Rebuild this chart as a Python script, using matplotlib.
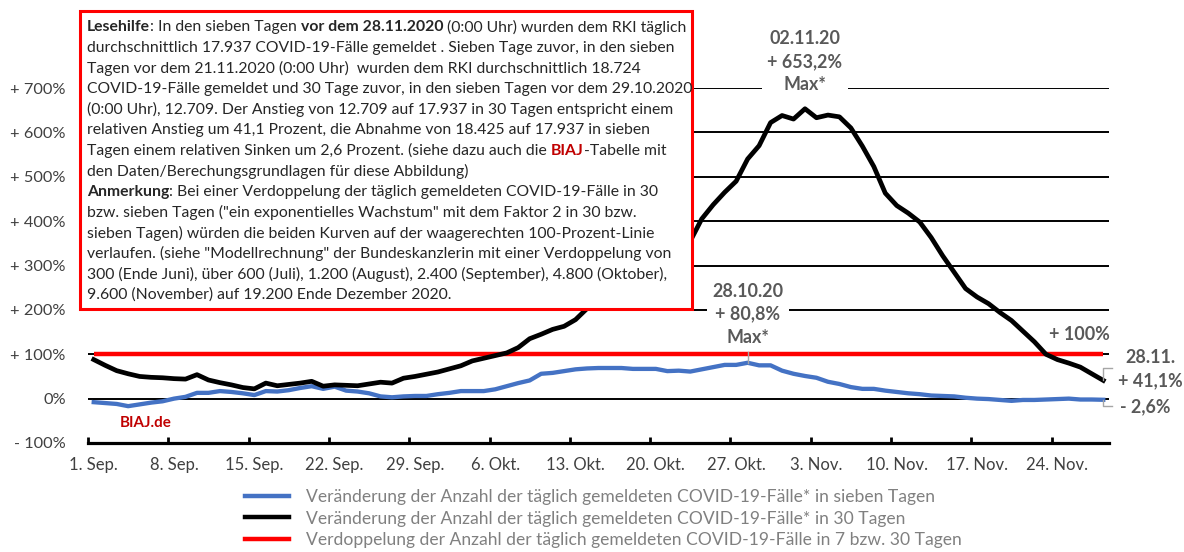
import matplotlib
matplotlib.use("Agg")
import matplotlib.pyplot as plt
from matplotlib.lines import Line2D
from matplotlib.patches import Rectangle

plt.rcParams['font.family'] = ['Lato', 'DejaVu Sans']

# ---------------- data ----------------
# day index 0 = 1. Sep. 2020 ... 88 = 28. Nov. 2020
change_7 = [-8, -10, -12, -17, -13, -9, -6, 0, 4, 13,
            13, 17, 15, 12, 8, 17, 16, 19, 24, 28,
            22, 27, 18, 16, 12, 5, 3, 5, 6, 6,
            10, 13, 17, 17, 17, 21, 28, 35, 41, 56,
            58, 62, 66, 68, 69, 69, 69, 67, 67, 67,
            62, 63, 61, 66, 71, 76, 76, 80.8, 75, 75,
            63, 56, 51, 47, 38, 33, 26, 22, 22, 18,
            15, 12, 10, 7, 6, 5, 2, 0, -1, -3,
            -5, -3, -3, -2, -1, 0, -2, -2, -2.6]
change_30 = [88, 75, 63, 56, 50, 48, 47, 45, 44, 54,
             42, 36, 31, 25, 22, 35, 29, 32, 35, 39,
             28, 31, 30, 29, 33, 37, 35, 46, 50, 55,
             60, 67, 74, 85, 91, 97, 103, 115, 135, 145,
             156, 163, 178, 203, 225, 250, 270, 290, 305, 318,
             318, 338, 355, 405, 437, 465, 490, 540, 570, 622,
             638, 630, 653.2, 633, 639, 635, 610, 569, 523, 463,
             435, 418, 398, 363, 322, 285, 248, 229, 214, 194,
             176, 152, 128, 100, 88, 80, 71, 56, 41.1]
doubling = [100] * len(change_30)

ytick_values = [-100, 0, 100, 200, 300, 400, 500, 600, 700]
ytick_labels = ["- 100%", "0%", "+ 100%", "+ 200%", "+ 300%", "+ 400%",
                "+ 500%", "+ 600%", "+ 700%"]
xtick_days = [0, 7, 14, 21, 28, 35, 42, 49, 56, 63, 70, 77, 84]
xtick_labels = ["1. Sep.", "8. Sep.", "15. Sep.", "22. Sep.", "29. Sep.",
                "6. Okt.", "13. Okt.", "20. Okt.", "27. Okt.", "3. Nov.",
                "10. Nov.", "17. Nov.", "24. Nov."]
legend_labels = [
    "Veränderung der Anzahl der täglich gemeldeten COVID-19-Fälle* in sieben Tagen",
    "Veränderung der Anzahl der täglich gemeldeten COVID-19-Fälle* in 30 Tagen",
    "Verdoppelung der Anzahl der täglich gemeldeten COVID-19-Fälle in 7 bzw. 30 Tagen",
]

BLUE = "#4472C4"
RED = "#FF0000"
GRAY_ANN = "#595959"
GRAY_LEG = "#808080"
TICK_COL = "#404040"

W, H = 1184, 552
fig = plt.figure(figsize=(W / 100, H / 100), dpi=100)
renderer = fig.canvas.get_renderer()


def fx(x):
    return x / W


def fy(y):
    return 1 - y / H


def fit_size(text, target_px, weight="normal"):
    t = fig.text(0, 0, text, fontsize=10, fontweight=weight)
    w = t.get_window_extent(renderer).width
    t.remove()
    return 10 * target_px / w


# axes: left at x=88 px, right 1109 px, top (700%) y=88 px, bottom (-100%) y=443 px
ax = fig.add_axes([fx(88), fy(443), (1109 - 88) / W, (443 - 88) / H])
days = list(range(len(change_30)))

ax.plot(days, doubling, color=RED, lw=3.2, zorder=3, solid_capstyle="butt")
ax.plot(days, change_7, color=BLUE, lw=3.1, zorder=4, solid_joinstyle="round")
ax.plot(days, change_30, color="black", lw=3.4, zorder=5, solid_joinstyle="round")

ax.set_xlim(-0.5, len(days) - 0.5)
ax.set_ylim(-100, 700)

for v in ytick_values[1:]:
    ax.axhline(v, color="black", lw=1.4, zorder=1)

for s in ["top", "right", "left"]:
    ax.spines[s].set_visible(False)
ax.spines["bottom"].set_linewidth(2.3)

ysz = fit_size("+ 700%", 55)
ax.set_yticks(ytick_values)
ax.set_yticklabels(ytick_labels)
ax.tick_params(axis="y", length=0, pad=16, labelsize=ysz, labelcolor=TICK_COL)

xsz = fit_size("24. Nov.", 62)
ax.set_xticks(xtick_days)
ax.set_xticklabels(xtick_labels)
ax.tick_params(axis="x", which="major", length=0, pad=10, labelsize=xsz,
               labelcolor=TICK_COL)
ax.set_xticks([d - 0.5 for d in xtick_days], minor=True)
ax.tick_params(axis="x", which="minor", direction="in", length=4, width=2,
               color="black")

# ---------- annotations ----------
asz = fit_size("02.11.20", 71, weight="bold")
i30 = change_30.index(max(change_30))
ax.annotate("02.11.20\n+ 653,2%\nMax*", xy=(i30, change_30[i30]),
            xytext=(0, 34), textcoords="offset points", ha="center", va="center",
            fontsize=asz, fontweight="bold", color=GRAY_ANN, linespacing=1.42,
            annotation_clip=False, zorder=6,
            bbox=dict(boxstyle="square,pad=0.3", fc="white", ec="none"))

i7 = change_7.index(max(change_7))
ax.annotate("28.10.20\n+ 80,8%\nMax*", xy=(i7, change_7[i7]),
            xytext=(0, 35), textcoords="offset points", ha="center", va="center",
            fontsize=asz, fontweight="bold", color=GRAY_ANN, linespacing=1.42,
            annotation_clip=False, zorder=6,
            bbox=dict(boxstyle="square,pad=0.3", fc="white", ec="none"))
ax.plot([i7, i7], [change_7[i7], change_7[i7] + 25], color="#A6A6A6", lw=1.0,
        zorder=6)

ax.annotate("+ 100%", xy=(days[-1], doubling[-1]), xytext=(5, 14),
            textcoords="offset points", ha="right", va="center",
            fontsize=asz, fontweight="bold", color=GRAY_ANN, annotation_clip=False)

last = days[-1]
# bracket leaders to the end labels
ax.plot([last, last, last + 0.8], [change_30[-1], change_30[-1] + 27, change_30[-1] + 27],
        color="#A6A6A6", lw=1.0, clip_on=False, zorder=6)
ax.plot([last, last, last + 0.8], [change_7[-1], change_7[-1] - 14, change_7[-1] - 14],
        color="#A6A6A6", lw=1.0, clip_on=False, zorder=6)
fig.text(fx(1150), fy(369), "28.11.\n+ 41,1%", ha="center", va="center",
         fontsize=asz, fontweight="bold", color=GRAY_ANN, linespacing=1.4)
fig.text(fx(1120), fy(407), "- 2,6%", ha="left", va="center",
         fontsize=asz, fontweight="bold", color=GRAY_ANN)

bsz = fit_size("BIAJ.de", 52, weight="bold")
fig.text(fx(146), fy(423), "BIAJ.de", ha="center", va="center", fontsize=bsz,
         fontweight="bold", color="#C00000")

# ---------- legend ----------
handles = [Line2D([], [], color=BLUE, lw=3.2),
           Line2D([], [], color="black", lw=3.2),
           Line2D([], [], color=RED, lw=3.2)]
lsz = fit_size(legend_labels[0], 629)
fpx = lsz * 100 / 72
leg = fig.legend(handles, legend_labels, loc="upper left",
                 bbox_to_anchor=(fx(245), fy(489)), frameon=False,
                 fontsize=lsz, labelcolor=GRAY_LEG, handlelength=44 / fpx,
                 handletextpad=17 / fpx, labelspacing=0.32,
                 borderpad=0, borderaxespad=0)

# ---------- reading-help box ----------
box = Rectangle((fx(80), fy(309)), (692 - 80) / W, (309 - 11) / H,
                transform=fig.transFigure, fc="white", ec=RED, lw=2.2, zorder=10)
fig.add_artist(box)

N, B, R = "normal", "bold", "red"
box_lines = [
    [("Lesehilfe", B), (": In den sieben Tagen ", N), ("vor dem 28.11.2020", B),
     (" (0:00 Uhr) wurden dem RKI täglich", N)],
    [("durchschnittlich 17.937 COVID-19-Fälle gemeldet . Sieben Tage zuvor, in den sieben", N)],
    [("Tagen vor dem 21.11.2020 (0:00 Uhr)  wurden dem RKI durchschnittlich 18.724", N)],
    [("COVID-19-Fälle gemeldet und 30 Tage zuvor, in den sieben Tagen vor dem 29.10.2020", N)],
    [("(0:00 Uhr), 12.709. Der Anstieg von 12.709 auf 17.937 in 30 Tagen entspricht einem", N)],
    [("relativen Anstieg um 41,1 Prozent, die Abnahme von 18.425 auf 17.937 in sieben", N)],
    [("Tagen einem relativen Sinken um 2,6 Prozent. (siehe dazu auch die ", N), ("BIAJ", R),
     ("-Tabelle mit", N)],
    [("den Daten/Berechungsgrundlagen für diese Abbildung)", N)],
    [("Anmerkung", B), (": Bei einer Verdoppelung der täglich gemeldeten COVID-19-Fälle in 30", N)],
    [("bzw. sieben Tagen (\"ein exponentielles Wachstum\" mit dem Faktor 2 in 30 bzw.", N)],
    [("sieben Tagen) würden die beiden Kurven auf der waagerechten 100-Prozent-Linie", N)],
    [("verlaufen. (siehe \"Modellrechnung\" der Bundeskanzlerin mit einer Verdoppelung von", N)],
    [("300 (Ende Juni), über 600 (Juli), 1.200 (August), 2.400 (September), 4.800 (Oktober),", N)],
    [("9.600 (November) auf 19.200 Ende Dezember 2020.", N)],
]


def draw_line(segs, x0, yc, size):
    x = x0
    for txt, style in segs:
        weight = "bold" if style in (B, R) else "normal"
        color = "#C00000" if style == R else "#262626"
        t = fig.text(fx(x), fy(yc), txt, fontsize=size, fontweight=weight,
                     color=color, ha="left", va="center", zorder=11)
        x += t.get_window_extent(renderer).width
    return x


# fit box font size to the first line width (~597 px)
probe = draw_line(box_lines[0], 0, -100, 10)
for t in list(fig.texts):
    if t.get_position()[1] > 1.0:
        t.remove()
tsz = 10 * 597 / probe
for i, segs in enumerate(box_lines):
    draw_line(segs, 87, 27 + i * 20.6, tsz)

fig.savefig("out.png", dpi=100)
